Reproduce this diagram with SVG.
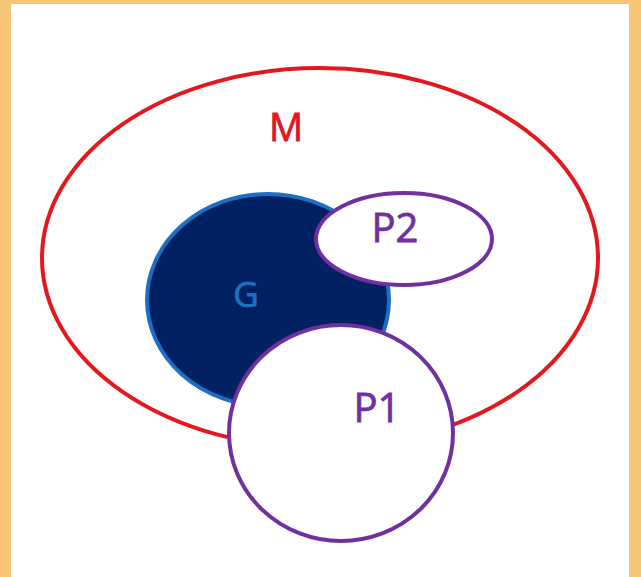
<svg xmlns="http://www.w3.org/2000/svg" width="641" height="577" viewBox="0 0 641 577">
<style>
.lbl{font-family:"Open Sans","Liberation Sans",sans-serif;text-anchor:middle;stroke-width:0.8}
.p{fill:#fff;stroke:#7030A0;stroke-width:4}
.pt{fill:#7030A0;stroke:#7030A0;font-size:40px}
</style>
<rect x="0" y="0" width="641" height="577" fill="#F8C577"/>
<rect x="11" y="4" width="618" height="573" fill="#fff"/>
<g id="M">
<ellipse cx="320" cy="258" rx="278" ry="190" fill="none" stroke="#E3171E" stroke-width="4"/>
<text class="lbl" x="286" y="141" font-size="38" fill="#E3171E" stroke="#E3171E">M</text>
</g>
<g id="G">
<ellipse cx="268" cy="300" rx="121" ry="106" fill="#022163" stroke="#1C6FC2" stroke-width="4"/>
<text class="lbl" x="246" y="307" font-size="35" fill="#1F6FC3" stroke="#1F6FC3">G</text>
</g>
<g id="P2">
<ellipse class="p" cx="404" cy="239" rx="88" ry="46"/>
<text class="lbl pt" x="395" y="242">P2</text>
</g>
<g id="P1">
<ellipse class="p" cx="341" cy="433" rx="112" ry="108"/>
<text class="lbl pt" x="377" y="422">P1</text>
</g>
<g id="connectors"/>
</svg>
